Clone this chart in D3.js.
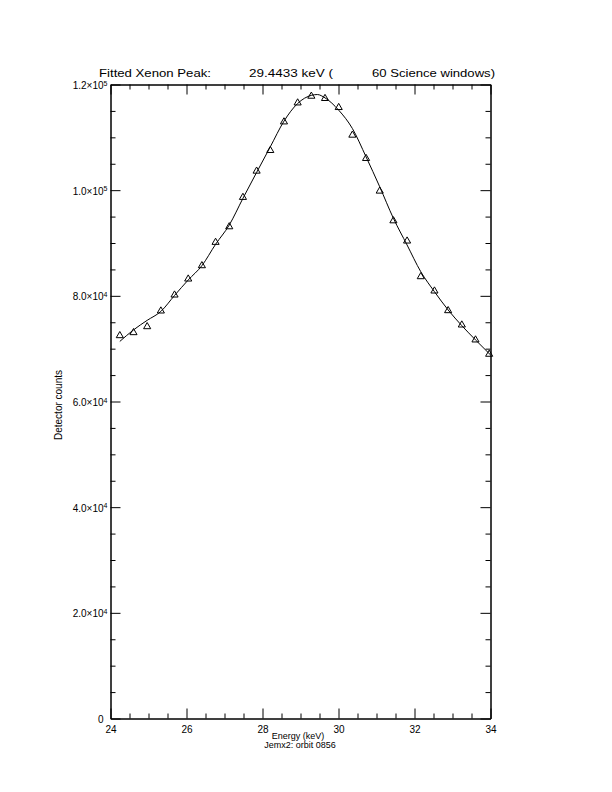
<!DOCTYPE html>
<html><head><meta charset="utf-8">
<script src="https://cdn.jsdelivr.net/npm/d3@7"></script>
<style>body{margin:0;background:#fff}</style>
</head><body>
<svg id="c" width="612" height="792"></svg>
<script>
// Measured data (triangles)
const energy = [24.245,24.605,24.965,25.325,25.685,26.045,26.405,26.765,27.125,27.485,27.845,28.205,28.565,28.925,
                29.285,29.645,30.005,30.365,30.725,31.085,31.445,31.805,32.165,32.525,32.885,33.245,33.605,33.965];
const counts = [72470,73040,74170,77140,80160,83190,85710,90130,93080,98640,103610,107520,112930,116520,
                117790,117360,115650,110420,106010,99830,94210,90380,83630,80920,77200,74490,71660,68950];
// Fitted curve
const fitEnergy = [24.245,24.605,24.965,25.325,25.685,26.045,26.405,26.765,27.125,27.485,27.845,28.205,28.565,28.925,
                   29.285,29.443,29.645,30.005,30.365,30.725,31.085,31.445,31.805,32.165,32.525,32.885,33.245,33.605,34.0];
const fitCounts = [71370,73550,75360,77050,80070,83000,85710,89750,93400,98450,103360,108200,113060,116410,
                   117950,118100,117470,115140,111680,106310,100640,94670,89620,84570,80790,77330,74360,71660,68820];
// Ticks
const xMajorTicks = [24,26,28,30,32,34];
const xMinorTicks = [24.5,25,25.5,26.5,27,27.5,28.5,29,29.5,30.5,31,31.5,32.5,33,33.5];
const yMajorTicks = [0,20000,40000,60000,80000,100000,120000];
const yMinorTicks = [5000,10000,15000,25000,30000,35000,45000,50000,55000,65000,70000,75000,85000,90000,95000,105000,110000,115000];
const yTickMantissa = ["0","2.0×10","4.0×10","6.0×10","8.0×10","1.0×10","1.2×10"];
const yTickExponent = ["","4","4","4","4","5","5"];

const svg = d3.select("#c");
const font = "'Liberation Sans', Arial, sans-serif";
const x = d3.scaleLinear().domain([24,34]).range([110.5,490.5]);
const y = d3.scaleLinear().domain([0,120000]).range([718.5,84.5]);

const g = svg.append("g").attr("font-family", font);

function axis(gen, ticks, size, transform, labels) {
  const a = gen.tickValues(ticks).tickSize(size).tickSizeOuter(0).tickPadding(7);
  if (!labels) a.tickFormat("");
  const s = g.append("g").attr("transform", transform).call(a);
  s.selectAll("path,line").attr("stroke","#000").attr("stroke-width",1);
  s.selectAll("text").attr("font-size",10).attr("fill","#000").attr("font-family",font);
  return s;
}
// bottom
axis(d3.axisBottom(x).tickFormat(d3.format("d")), xMajorTicks, -10, `translate(0,${y(0)})`, true);
axis(d3.axisBottom(x), xMinorTicks, -5, `translate(0,${y(0)})`, false);
// top
axis(d3.axisTop(x), xMajorTicks, -10, `translate(0,${y(120000)})`, false);
axis(d3.axisTop(x), xMinorTicks, -5, `translate(0,${y(120000)})`, false);
// left
axis(d3.axisLeft(y), yMajorTicks, -10, `translate(${x(24)},0)`, false);
axis(d3.axisLeft(y), yMinorTicks, -5, `translate(${x(24)},0)`, false);
// right
axis(d3.axisRight(y), yMajorTicks, -10, `translate(${x(34)},0)`, false);
axis(d3.axisRight(y), yMinorTicks, -5, `translate(${x(34)},0)`, false);

// y tick labels with superscripts
yMajorTicks.forEach((v,i) => {
  const t = g.append("text").attr("x", x(24) - 3 - (yTickExponent[i] ? 0 : 4)).attr("y", y(v) + 4.5)
    .attr("text-anchor","end").attr("font-size",10).attr("fill","#000");
  t.append("tspan").text(yTickMantissa[i]);
  if (yTickExponent[i]) t.append("tspan").attr("font-size",7).attr("dy",-3.5).text(yTickExponent[i]);
});

// fitted curve
const line = d3.line().x(d => x(d[0])).y(d => y(d[1])).curve(d3.curveMonotoneX);
g.append("path").datum(fitEnergy.map((e,i)=>[e,fitCounts[i]]))
  .attr("d", line).attr("fill","none").attr("stroke","#000").attr("stroke-width",1);

// triangles
const tri = d3.symbol().type(d3.symbolTriangle).size(22);
g.selectAll(".pt").data(energy.map((e,i)=>[e,counts[i]])).enter().append("path")
  .attr("d", tri).attr("transform", d => `translate(${x(d[0])},${y(d[1])})`)
  .attr("fill","none").attr("stroke","#000").attr("stroke-width",1);

// title
const title = [["Fitted Xenon Peak:",99,112],["29.4433 keV (",249,84],["60 Science windows)",372,123]];
title.forEach(tt => g.append("text").attr("x",tt[1]).attr("y",77).attr("font-size",11.5)
  .attr("textLength",tt[2]).attr("lengthAdjust","spacingAndGlyphs").attr("fill","#000").text(tt[0]));

// axis titles
g.append("text").attr("x",298).attr("y",738.5).attr("text-anchor","middle").attr("font-size",9).text("Energy (keV)");
g.append("text").attr("x",300).attr("y",748).attr("text-anchor","middle").attr("font-size",9).text("Jemx2: orbit 0856");
g.append("text").attr("transform","translate(62,405) rotate(-90)").attr("text-anchor","middle")
  .attr("font-size",10).text("Detector counts");
</script>
</body></html>
